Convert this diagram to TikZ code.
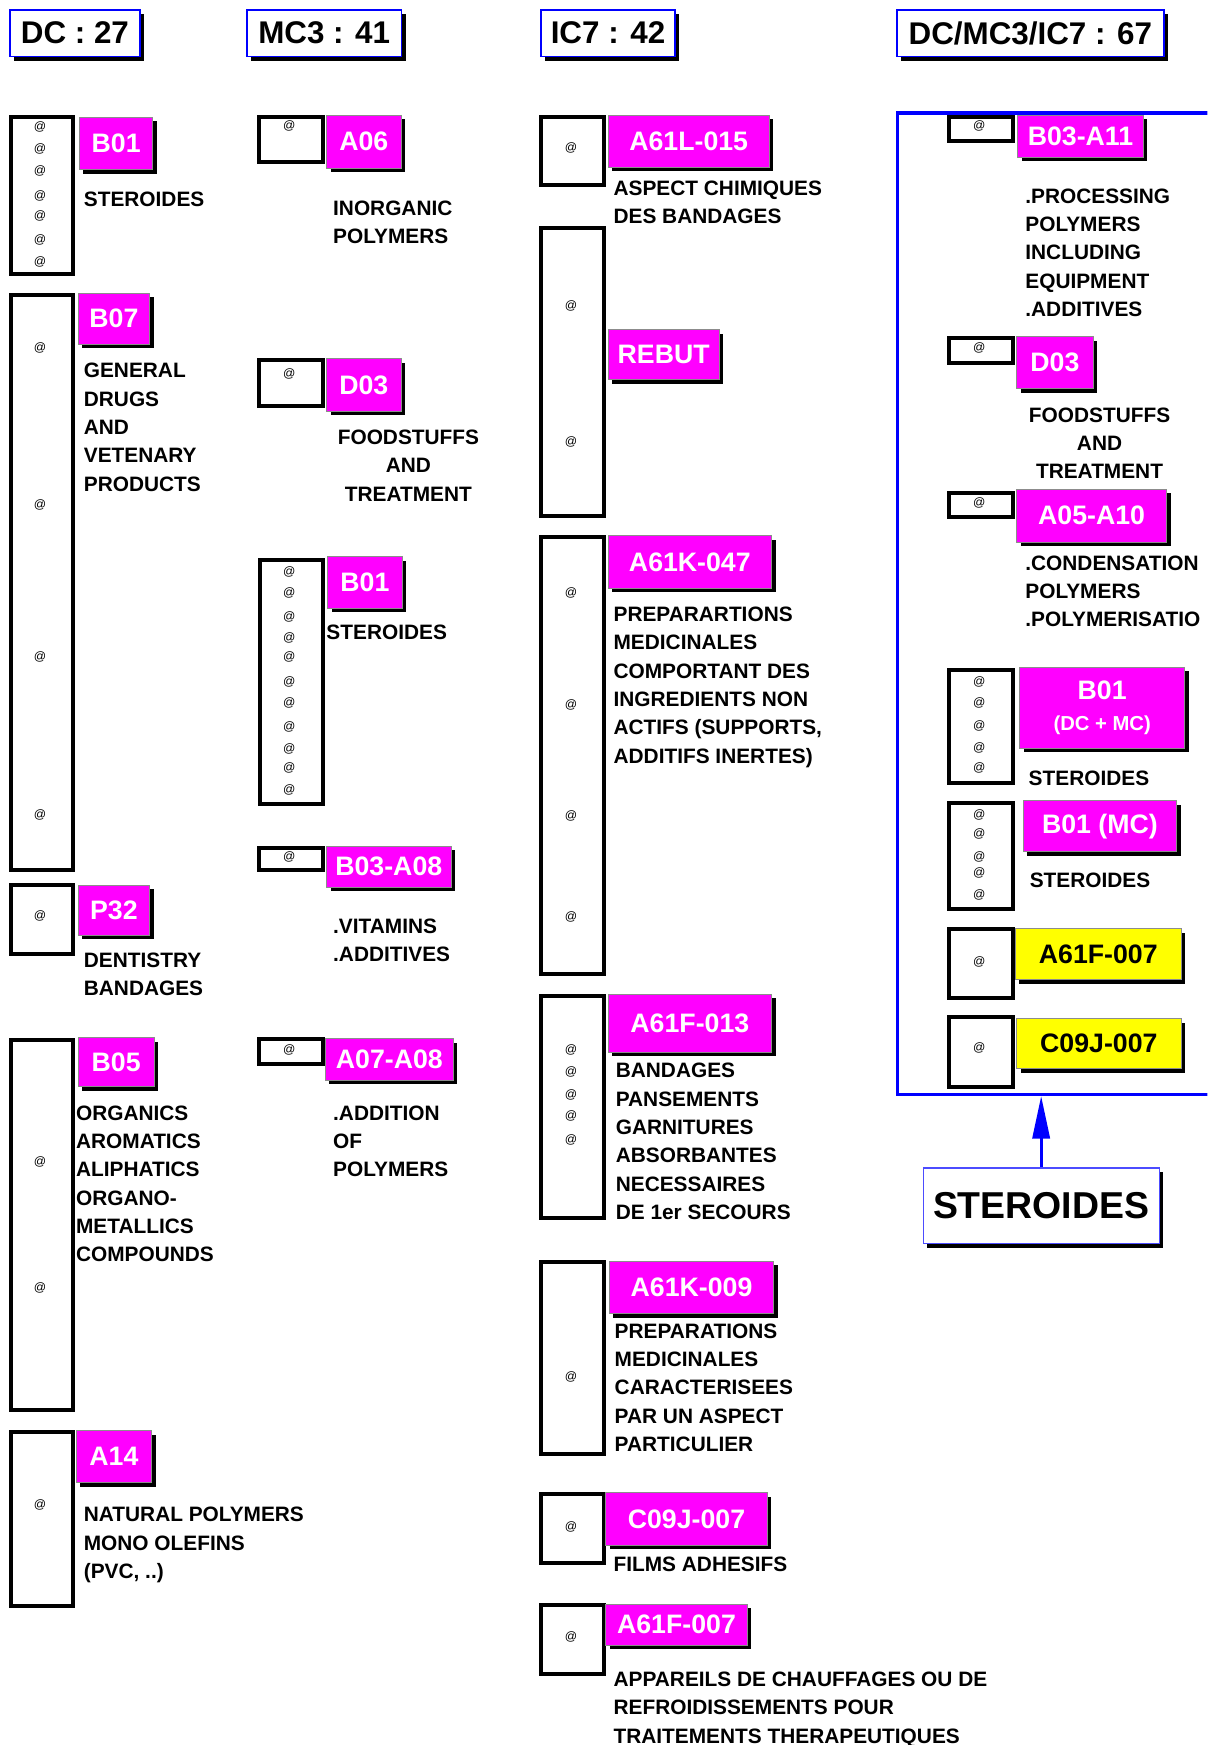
\documentclass[tikz,border=0pt]{standalone}
\usepackage{fontspec}
\setmainfont{Liberation Sans}
\usetikzlibrary{shadows, arrows.meta}
\definecolor{codemag}{HTML}{FF00FF}
\definecolor{codeyel}{HTML}{FFFF00}
\definecolor{frameblue}{HTML}{0000FF}
\newcommand\descfont{\bfseries\fontsize{10.3}{14}\selectfont}
\newcommand\codefont{\bfseries\fontsize{13.2}{15}\selectfont}
\newcommand\hdrfont{\bfseries\fontsize{15.5}{18}\selectfont}
\newcommand\bigfont{\bfseries\fontsize{18.5}{22}\selectfont}
\newcommand\atfont{\fontsize{6}{7}\selectfont}
\tikzset{
  boxsize/.style 2 args={minimum width=#1*0.55pt, minimum height=#2*0.55pt,
    anchor=north west},
  hdrbox/.style={
    rectangle, draw=frameblue, line width=0.9pt, fill=white,
    inner sep=0pt, font=\hdrfont,
    drop shadow={shadow xshift=2pt, shadow yshift=-2pt, opacity=1, fill=black}
  },
  atbox/.style={rectangle, draw=black, line width=2pt, fill=white, inner sep=0pt},
  atmark/.style={inner sep=0pt, font=\atfont},
  codebox/.style={
    rectangle, draw=black!45, line width=0.4pt, fill=#1, inner sep=0pt,
    text=white, font=\codefont, align=center,
    drop shadow={shadow xshift=2pt, shadow yshift=-2pt, opacity=1, fill=black}
  },
  codebox/.default=codemag,
  desctext/.style={anchor=north west, inner sep=0pt, align=left, font=\descfont},
  blueframe/.style={rectangle, draw=frameblue, line width=1.6pt, inner sep=0pt},
  bigbox/.style={
    rectangle, draw=frameblue!70, line width=0.6pt, fill=white,
    inner sep=0pt, font=\bigfont,
    drop shadow={shadow xshift=2pt, shadow yshift=-2pt, opacity=1, fill=black}
  }
}
\begin{document}
\begin{tikzpicture}[x=0.55pt, y=-0.55pt]
  \useasboundingbox (0,0) rectangle (1085,1568);
  \clip (0,0) rectangle (1085,1568);
  \fill[white] (0,0) rectangle (1085,1568);

  % headers
  \node[hdrbox, boxsize={117}{42}] (hdrdc) at (8,8) {DC : 27};
  \node[hdrbox, boxsize={139}{42}] (hdrmc) at (221,8) {MC3 : 41};
  \node[hdrbox, boxsize={121}{42}] (hdric) at (485,8) {IC7 : 42};
  \node[hdrbox, boxsize={240}{42}] (hdrall) at (805,8) {DC/MC3/IC7 : 67};

  % DC column
  \node[atbox, boxsize={56}{141}] (dcB01at) at (8,103) {};
  \foreach \y [count=\i] in {114,134,154,176,194,216,235}
    \node[atmark] (dcB01at\i) at (36,\y) {@};
  \node[codebox, boxsize={66}{47}] (dcB01) at (71,105) {B01};
  \node[desctext] (dcB01txt) at (75,172) {STEROIDES};

  \node[atbox, boxsize={56}{517}] (dcB07at) at (8,263) {};
  \foreach \y [count=\i] in {313,454,590,732}
    \node[atmark] (dcB07at\i) at (36,\y) {@};
  \node[codebox, boxsize={64}{46}] (dcB07) at (70,263) {B07};
  \node[desctext] (dcB07txt) at (75,326)
    {GENERAL\\DRUGS\\AND\\VETENARY\\PRODUCTS};

  \node[atbox, boxsize={56}{62}] (dcP32at) at (8,793) {};
  \node[atmark] (dcP32at1) at (36,823) {@};
  \node[codebox, boxsize={64}{45}] (dcP32) at (70,795) {P32};
  \node[desctext] (dcP32txt) at (75,856) {DENTISTRY\\BANDAGES};

  \node[atbox, boxsize={56}{332}] (dcB05at) at (8,933) {};
  \foreach \y [count=\i] in {1044,1157}
    \node[atmark] (dcB05at\i) at (36,\y) {@};
  \node[codebox, boxsize={68}{44}] (dcB05) at (70,932) {B05};
  \node[desctext] (dcB05txt) at (68,993)
    {ORGANICS\\AROMATICS\\ALIPHATICS\\ORGANO-\\METALLICS\\COMPOUNDS};

  \node[atbox, boxsize={56}{156}] (dcA14at) at (8,1285) {};
  \node[atmark] (dcA14at1) at (36,1352) {@};
  \node[codebox, boxsize={68}{47}] (dcA14) at (68,1285) {A14};
  \node[desctext] (dcA14txt) at (75,1354)
    {NATURAL POLYMERS\\MONO OLEFINS\\(PVC, ..)};

  % MC3 column
  \node[atbox, boxsize={57}{41}] (mcA06at) at (231,103) {};
  \node[atmark] (mcA06at1) at (260,113) {@};
  \node[codebox, boxsize={67}{48}] (mcA06) at (293,103) {A06};
  \node[desctext] (mcA06txt) at (299,180) {INORGANIC\\POLYMERS};

  \node[atbox, boxsize={57}{41}] (mcD03at) at (231,322) {};
  \node[atmark] (mcD03at1) at (260,336) {@};
  \node[codebox, boxsize={67}{47}] (mcD03) at (293,322) {D03};
  \node[desctext, anchor=north, align=center] (mcD03txt) at (367,386)
    {FOODSTUFFS\\AND\\TREATMENT};

  \node[atbox, boxsize={56}{220}] (mcB01at) at (232,501) {};
  \foreach \y [count=\i] in {514,533,554,573,590,613,632,653,673,690,710}
    \node[atmark] (mcB01at\i) at (260,\y) {@};
  \node[codebox, boxsize={67}{46}] (mcB01) at (294,500) {B01};
  \node[desctext] (mcB01txt) at (293,561) {STEROIDES};

  \node[atbox, boxsize={57}{20}] (mcB03at) at (231,760) {};
  \node[atmark] (mcB03at1) at (260,770) {@};
  \node[codebox, boxsize={112}{37}] (mcB03) at (293,760) {B03-A08};
  \node[desctext] (mcB03txt) at (299,825) {.VITAMINS\\.ADDITIVES};

  \node[atbox, boxsize={57}{22}] (mcA07at) at (231,932) {};
  \node[atmark] (mcA07at1) at (260,943) {@};
  \node[codebox, boxsize={115}{37}] (mcA07) at (292,933) {A07-A08};
  \node[desctext] (mcA07txt) at (299,993) {.ADDITION\\OF\\POLYMERS};

  % IC7 column
  \node[atbox, boxsize={57}{61}] (icA61Lat) at (484,103) {};
  \node[atmark] (icA61Lat1) at (513,133) {@};
  \node[codebox, boxsize={145}{47}] (icA61L) at (546,103) {A61L-015};
  \node[desctext] (icA61Ltxt) at (551,162) {ASPECT CHIMIQUES\\DES BANDAGES};

  \node[atbox, boxsize={57}{259}] (icRebutat) at (484,203) {};
  \foreach \y [count=\i] in {275,397}
    \node[atmark] (icRebutat\i) at (513,\y) {@};
  \node[codebox, boxsize={100}{45}] (icRebut) at (546,296) {REBUT};

  \node[atbox, boxsize={57}{392}] (icA61K47at) at (484,481) {};
  \foreach \y [count=\i] in {533,633,733,824}
    \node[atmark] (icA61K47at\i) at (513,\y) {@};
  \node[codebox, boxsize={147}{47}] (icA61K47) at (546,481) {A61K-047};
  \node[desctext] (icA61K47txt) at (551,545)
    {PREPARARTIONS\\MEDICINALES\\COMPORTANT DES\\INGREDIENTS NON\\%
     ACTIFS (SUPPORTS,\\ADDITIFS INERTES)};

  \node[atbox, boxsize={57}{200}] (icA61F13at) at (484,893) {};
  \foreach \y [count=\i] in {943,963,984,1003,1024}
    \node[atmark] (icA61F13at\i) at (513,\y) {@};
  \node[codebox, boxsize={147}{52}] (icA61F13) at (546,893) {A61F-013};
  \node[desctext] (icA61F13txt) at (553,955)
    {BANDAGES\\PANSEMENTS\\GARNITURES\\ABSORBANTES\\NECESSAIRES\\DE 1er SECOURS};

  \node[atbox, boxsize={57}{173}] (icA61K09at) at (484,1132) {};
  \node[atmark] (icA61K09at1) at (513,1237) {@};
  \node[codebox, boxsize={148}{47}] (icA61K09) at (547,1133) {A61K-009};
  \node[desctext] (icA61K09txt) at (552,1189)
    {PREPARATIONS\\MEDICINALES\\CARACTERISEES\\PAR UN ASPECT\\PARTICULIER};

  \node[atbox, boxsize={57}{62}] (icC09Jat) at (484,1341) {};
  \node[atmark] (icC09Jat1) at (513,1372) {@};
  \node[codebox, boxsize={145}{47}] (icC09J) at (544,1341) {C09J-007};
  \node[desctext] (icC09Jtxt) at (551,1399) {FILMS ADHESIFS};

  \node[atbox, boxsize={57}{62}] (icA61F07at) at (484,1440) {};
  \node[atmark] (icA61F07at1) at (513,1471) {@};
  \node[codebox, boxsize={127}{37}] (icA61F07) at (544,1441) {A61F-007};
  \node[desctext] (icA61F07txt) at (551,1502)
    {APPAREILS DE CHAUFFAGES OU DE\\REFROIDISSEMENTS POUR\\%
     TRAITEMENTS THERAPEUTIQUES};

  % DC/MC3/IC7 column
  \node[blueframe, boxsize={305}{882}] (allframe) at (805,100) {};

  \node[atbox, boxsize={57}{22}] (allB03at) at (851,103) {};
  \node[atmark] (allB03at1) at (880,113) {@};
  \node[codebox, boxsize={113}{38}] (allB03) at (914,103) {B03-A11};
  \node[desctext] (allB03txt) at (921,169)
    {.PROCESSING\\POLYMERS\\INCLUDING\\EQUIPMENT\\.ADDITIVES};

  \node[atbox, boxsize={57}{22}] (allD03at) at (851,302) {};
  \node[atmark] (allD03at1) at (880,313) {@};
  \node[codebox, boxsize={69}{47}] (allD03) at (913,302) {D03};
  \node[desctext, anchor=north, align=center] (allD03txt) at (988,366)
    {FOODSTUFFS\\AND\\TREATMENT};

  \node[atbox, boxsize={57}{22}] (allA05at) at (851,441) {};
  \node[atmark] (allA05at1) at (880,452) {@};
  \node[codebox, boxsize={135}{48}] (allA05) at (913,439) {A05-A10};
  \node[desctext] (allA05txt) at (921,499)
    {.CONDENSATION\\POLYMERS\\.POLYMERISATIO};

  \node[atbox, boxsize={57}{102}] (allB01at) at (851,600) {};
  \foreach \y [count=\i] in {613,632,652,672,690}
    \node[atmark] (allB01at\i) at (880,\y) {@};
  \node[codebox, boxsize={148}{73}] (allB01) at (916,599)
    {B01\\{\fontsize{10}{12}\selectfont (DC + MC)}};
  \node[desctext] (allB01txt) at (924,692) {STEROIDES};

  \node[atbox, boxsize={57}{95}] (allB01mcat) at (851,720) {};
  \foreach \y [count=\i] in {732,749,770,784,804}
    \node[atmark] (allB01mcat\i) at (880,\y) {@};
  \node[codebox, boxsize={138}{46}] (allB01mc) at (919,719) {B01 (MC)};
  \node[desctext] (allB01mctxt) at (925,784) {STEROIDES};

  \node[atbox, boxsize={57}{62}] (allA61Fat) at (851,833) {};
  \node[atmark] (allA61Fat1) at (880,864) {@};
  \node[codebox=codeyel, text=black, boxsize={149}{46}] (allA61F) at (912,834)
    {A61F-007};

  \node[atbox, boxsize={57}{63}] (allC09Jat) at (851,912) {};
  \node[atmark] (allC09Jat1) at (880,942) {@};
  \node[codebox=codeyel, text=black, boxsize={148}{45}] (allC09J) at (913,915)
    {C09J-007};

  \node[bigbox, boxsize={212}{68}] (steroides) at (829,1049) {STEROIDES};
  \draw[-{Triangle[length=21pt, width=8.5pt]}, frameblue, line width=1.5pt]
    (steroides.north) -- (steroides.north |- allframe.south);
\end{tikzpicture}
\end{document}
